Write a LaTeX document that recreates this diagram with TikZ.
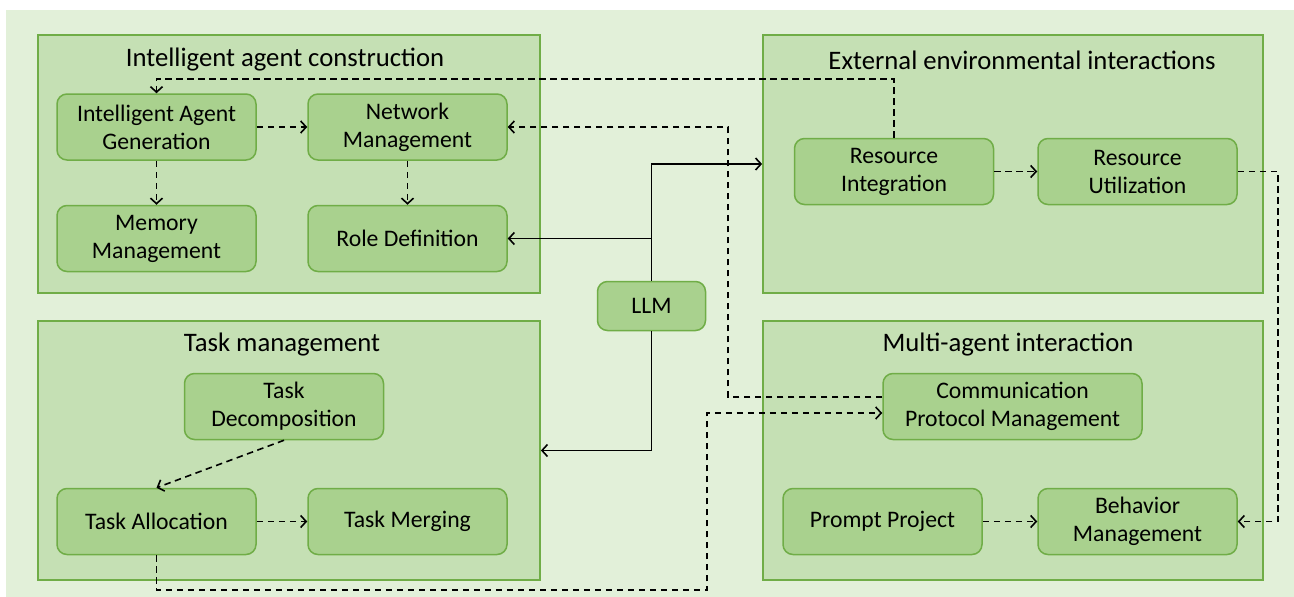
\documentclass[tikz,border=0pt]{standalone}
\usepackage{fontspec}
\setmainfont{Carlito}
\usetikzlibrary{arrows.meta}
\definecolor{bggreen}{HTML}{E2F0D9}
\definecolor{panelgreen}{HTML}{C5E0B4}
\definecolor{boxgreen}{HTML}{A9D18E}
\definecolor{edgegreen}{HTML}{70AD47}
\begin{document}
\begin{tikzpicture}[x=1pt, y=-1pt,
    panel/.style={draw=edgegreen, line width=1.8pt, fill=panelgreen, inner sep=0pt},
    title/.style={font=\fontsize{26.7}{32}\selectfont},
    block/.style={draw=edgegreen, line width=1.5pt, fill=boxgreen, rounded corners=10pt,
        minimum width=199pt, minimum height=66pt, align=center, inner sep=2pt,
        font=\fontsize{23.7}{28}\selectfont},
    dasharr/.style={dash pattern=on 6.5pt off 4.5pt, line width=1.6pt, -{Straight Barb[length=5.5pt,width=12pt]}},
    solidarr/.style={line width=1.6pt, -{Straight Barb[length=5.5pt,width=12pt]}}]
    % Background
    \useasboundingbox (0,0) rectangle (1294,597);
    \fill [bggreen] (6,10) rectangle (1294,597);
    % Panels
    \node [panel, minimum width=502pt, minimum height=258pt] (build) at (289,164) {};
    \node [panel, minimum width=500pt, minimum height=258pt] (ext) at (1013,164) {};
    \node [panel, minimum width=502pt, minimum height=259pt] (task) at (289,450.5) {};
    \node [panel, minimum width=500pt, minimum height=259pt] (multi) at (1013,450.5) {};
    \node [title] (buildt) at (285,60) {Intelligent agent construction};
    \node [title] (extt) at (1022,60) {External environmental interactions};
    \node [title] (taskt) at (282,345) {Task management};
    \node [title] (multit) at (1008,345) {Multi-agent interaction};
    % Blocks
    \node [block] (iag) at (156.5,127) {Intelligent Agent\\Generation};
    \node [block] (netm) at (407.5,127) {Network\\Management};
    \node [block] (memm) at (156.5,238.5) {Memory\\Management};
    \node [block] (role) at (407.5,238.5) {Role Definition};
    \node [block] (resint) at (894,171.5) {Resource\\Integration};
    \node [block] (resutil) at (1137.5,171.5) {Resource\\Utilization};
    \node [block] (tdec) at (284,406.5) {Task\\Decomposition};
    \node [block] (talloc) at (156.5,521.5) {Task Allocation};
    \node [block] (tmerge) at (407.5,521.5) {Task Merging};
    \node [block, minimum width=259pt] (cpm) at (1012.5,406.5) {Communication\\Protocol Management};
    \node [block] (prompt) at (882.5,521.5) {Prompt Project};
    \node [block] (behav) at (1137.5,521.5) {Behavior\\Management};
    \node [block, minimum width=108pt, minimum height=49pt] (llm) at (651.5,306) {LLM};
    % Inner links
    \draw [dasharr] (iag) -- (netm);
    \draw [dasharr] (iag) -- (memm);
    \draw [dasharr] (netm) -- (role);
    \draw [dasharr] (resint) -- (resutil);
    \draw [dasharr] (tdec.south) -- (talloc.north);
    \draw [dasharr] (talloc) -- (tmerge);
    \draw [dasharr] (prompt) -- (behav);
    % Cross links
    \draw [dasharr] (resint.north) -- (resint.north |- 0,79) -| (iag.north);
    \draw [dasharr] ([yshift=9.5pt]cpm.west) -| (728,127) -- (netm.east);
    \draw [dasharr] (talloc.south) -- (talloc.south |- 0,590) -| (707,413) -- ([yshift=-6.5pt]cpm.west);
    \draw [dasharr] (resutil.east) -| (1278,521.5) -- (behav.east);
    % LLM
    \draw [solidarr] (llm.north) |- (ext.west);
    \draw [solidarr] (llm.north |- role.east) -- (role.east);
    \draw [solidarr] (llm.south) |- (task.east);
\end{tikzpicture}
\end{document}
